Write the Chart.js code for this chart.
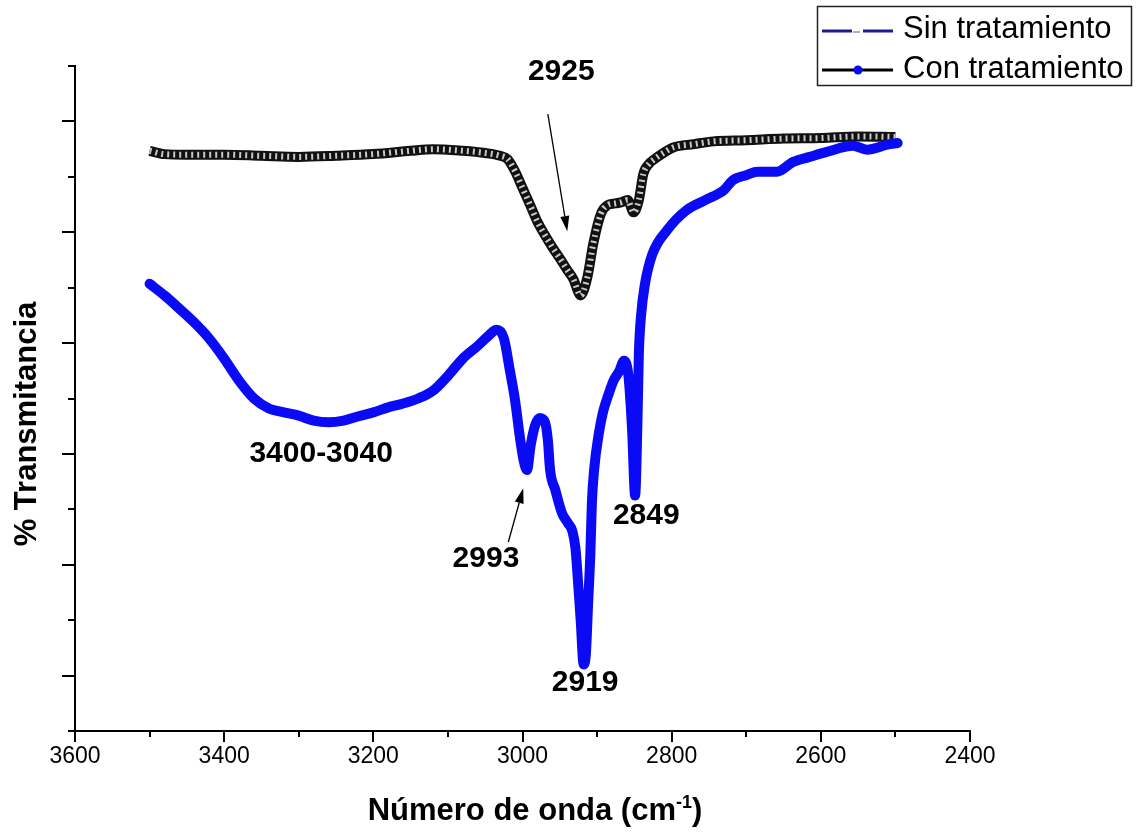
<!DOCTYPE html>
<html>
<head>
<meta charset="utf-8">
<script src="https://cdn.jsdelivr.net/npm/chart.js@4.4.1/dist/chart.umd.min.js"></script>
<style>
  html, body { margin: 0; padding: 0; background: #ffffff; }
  #wrap { width: 1138px; height: 840px; position: relative; }
</style>
</head>
<body>
<div id="wrap"><canvas id="c" width="1138" height="840"></canvas></div>
<script>
// FTIR spectra, 3500-2500 cm-1 (transmittance, arbitrary units)
const sinWavenumber = [3500, 3480, 3450, 3400, 3350, 3300, 3250, 3200, 3150, 3120, 3080, 3050,
  3030, 3020, 3010, 3000, 2990, 2980, 2970, 2960, 2950, 2940, 2932, 2922, 2913, 2905, 2895,
  2886, 2876, 2868, 2859, 2851, 2844, 2838, 2830, 2824, 2810, 2798, 2770, 2744, 2700, 2650,
  2600, 2550, 2500];
const sinTransmittance = [104.7, 104.1, 104.0, 104.0, 103.8, 103.6, 103.8, 104.1, 104.7, 105.0, 104.7, 104.3,
  103.8, 103.2, 101.0, 98.0, 95.0, 91.9, 89.5, 87.3, 85.3, 83.2, 81.6, 78.6, 81.9, 88.0, 93.3,
  94.9, 95.2, 95.4, 95.8, 93.6, 95.8, 100.5, 102.4, 103.1, 104.4, 105.3, 105.9, 106.4, 106.6, 106.9,
  107.0, 107.3, 107.2];

const conWavenumber = [3500, 3480, 3460, 3440, 3420, 3400, 3380, 3360, 3340, 3320, 3300, 3280,
  3260, 3240, 3220, 3200, 3180, 3160, 3140, 3120, 3100, 3080, 3060, 3045, 3035, 3025, 3017,
  3010, 3003, 2998, 2994, 2989, 2983, 2977, 2970, 2966, 2963, 2956, 2947, 2939, 2933, 2929,
  2926, 2922, 2918, 2915, 2912, 2909, 2907, 2904, 2898, 2892, 2885, 2878, 2870, 2864, 2858,
  2853, 2849, 2846, 2844, 2841, 2836, 2826, 2806, 2780, 2755, 2730, 2718, 2700, 2685, 2659,
  2637, 2615, 2592, 2557, 2538, 2511, 2497];
const conTransmittance = [80.7, 78.6, 76.2, 73.7, 70.8, 67.2, 63.2, 60.0, 58.2, 57.5, 56.9, 56.0,
  55.7, 56.0, 56.8, 57.5, 58.4, 59.1, 60.0, 61.4, 64.1, 67.2, 69.5, 71.4, 72.4, 70.9, 65.1,
  59.7, 52.5, 48.5, 47.1, 51.6, 55.2, 56.5, 55.8, 52.5, 47.1, 43.5, 39.3, 37.5, 36.0, 33.0,
  27.8, 20.0, 12.0, 14.0, 23.1, 32.1, 41.1, 47.1, 53.4, 57.6, 60.6, 63.2, 65.0, 66.8, 64.1,
  54.2, 42.5, 55.0, 68.0, 75.0, 80.5, 86.0, 90.4, 94.0, 95.8, 97.6, 99.4, 100.3, 100.9, 100.9,
  102.7, 103.6, 104.5, 105.6, 104.9, 105.8, 106.1];

const seriesNames = ['Sin tratamiento', 'Con tratamiento'];
const xTickLabels = [3600, 3400, 3200, 3000, 2800, 2600, 2400];

// Band assignments written on the plot (data coordinates)
const peakNotes = [
  { text: '2925', x: 2948, y: 118.9 },
  { text: '3400-3040', x: 3270, y: 50.0 },
  { text: '2993', x: 3049, y: 31.0 },
  { text: '2919', x: 2916, y: 8.7 },
  { text: '2849', x: 2834, y: 38.8 }
];
const noteArrows = [
  { from: [2966, 111.3], to: [2940, 90.2] },
  { from: [3019, 34.1], to: [2999, 43.8] }
];

const FONT = "'Liberation Sans', Arial, sans-serif";

const sinPoints = sinWavenumber.map((w, i) => ({ x: w, y: sinTransmittance[i] }));
const conPoints = conWavenumber.map((w, i) => ({ x: w, y: conTransmittance[i] }));

function arrow(ctx, x1, y1, x2, y2) {
  const ang = Math.atan2(y2 - y1, x2 - x1);
  const hl = 15, hw = 4.5;
  const bx = x2 - hl * Math.cos(ang), by = y2 - hl * Math.sin(ang);
  ctx.beginPath();
  ctx.moveTo(x1, y1);
  ctx.lineTo(bx, by);
  ctx.stroke();
  ctx.beginPath();
  ctx.moveTo(x2, y2);
  ctx.lineTo(bx + hw * Math.sin(ang), by - hw * Math.cos(ang));
  ctx.lineTo(bx - hw * Math.sin(ang), by + hw * Math.cos(ang));
  ctx.closePath();
  ctx.fill();
}

const decorations = {
  id: 'decorations',
  afterDraw(chart) {
    const { ctx } = chart;
    const xs = chart.scales.x, ys = chart.scales.y;
    const area = chart.chartArea;
    ctx.save();

    // tick marks: major / minor
    ctx.strokeStyle = '#000';
    ctx.lineWidth = 2;
    for (let v = 2400; v <= 3600; v += 100) {
      const p = Math.round(xs.getPixelForValue(v));
      const len = v % 200 === 0 ? 11 : 6;
      ctx.beginPath();
      ctx.moveTo(p, area.bottom);
      ctx.lineTo(p, area.bottom + len);
      ctx.stroke();
    }
    for (let v = 0; v <= 120; v += 10) {
      const p = Math.round(ys.getPixelForValue(v));
      const len = v % 20 === 10 ? 13 : 7;
      ctx.beginPath();
      ctx.moveTo(area.left - len, p);
      ctx.lineTo(area.left, p);
      ctx.stroke();
    }

    // axis titles
    ctx.fillStyle = '#000';
    ctx.textBaseline = 'alphabetic';
    const mainFont = 'bold 31px ' + FONT;
    const supFont = 'bold 18px ' + FONT;
    const part1 = 'Número de onda (cm', sup = '-1', part2 = ')';
    ctx.font = mainFont;
    const w1 = ctx.measureText(part1).width, w3 = ctx.measureText(part2).width;
    ctx.font = supFont;
    const w2 = ctx.measureText(sup).width;
    let tx = 535 - (w1 + w2 + w3) / 2;
    const ty = 820;
    ctx.font = mainFont; ctx.textAlign = 'left';
    ctx.fillText(part1, tx, ty); tx += w1;
    ctx.font = supFont;
    ctx.fillText(sup, tx, ty - 12); tx += w2;
    ctx.font = mainFont;
    ctx.fillText(part2, tx, ty);

    ctx.save();
    ctx.translate(36, 424);
    ctx.rotate(-Math.PI / 2);
    ctx.textAlign = 'center';
    ctx.font = mainFont;
    ctx.fillText('% Transmitancia', 0, 0);
    ctx.restore();

    // band labels and arrows
    ctx.font = 'bold 30px ' + FONT;
    ctx.textAlign = 'center';
    ctx.textBaseline = 'middle';
    peakNotes.forEach(n => {
      ctx.fillText(n.text, xs.getPixelForValue(n.x), ys.getPixelForValue(n.y));
    });
    ctx.lineWidth = 1.3;
    ctx.strokeStyle = '#000';
    noteArrows.forEach(a => {
      arrow(ctx, xs.getPixelForValue(a.from[0]), ys.getPixelForValue(a.from[1]),
        xs.getPixelForValue(a.to[0]), ys.getPixelForValue(a.to[1]));
    });

    // legend
    ctx.lineWidth = 1.5;
    ctx.strokeStyle = '#222';
    ctx.strokeRect(817.5, 6.5, 314, 79);
    ctx.lineCap = 'butt';
    ctx.lineWidth = 3;
    ctx.strokeStyle = '#1c1c8c';
    ctx.beginPath(); ctx.moveTo(822, 31); ctx.lineTo(852, 31); ctx.stroke();
    ctx.beginPath(); ctx.moveTo(863, 31); ctx.lineTo(893, 31); ctx.stroke();
    ctx.strokeStyle = '#b0b0b0'; ctx.lineWidth = 2;
    ctx.beginPath(); ctx.moveTo(853, 32); ctx.lineTo(860, 32); ctx.stroke();
    ctx.strokeStyle = '#000'; ctx.lineWidth = 3;
    ctx.beginPath(); ctx.moveTo(822, 70); ctx.lineTo(893, 70); ctx.stroke();
    ctx.fillStyle = '#0a0af5';
    ctx.beginPath(); ctx.arc(858, 70, 4.5, 0, Math.PI * 2); ctx.fill();
    ctx.fillStyle = '#000';
    ctx.font = '31px ' + FONT;
    ctx.textAlign = 'left';
    ctx.textBaseline = 'middle';
    ctx.fillText(seriesNames[0], 903, 29);
    ctx.fillText(seriesNames[1], 903, 69);

    ctx.restore();
  }
};

new Chart(document.getElementById('c'), {
  type: 'line',
  data: {
    datasets: [
      {
        label: seriesNames[1],
        data: conPoints,
        borderColor: '#0a0af5',
        borderWidth: 10,
        pointRadius: 0,
        borderJoinStyle: 'round',
        borderCapStyle: 'round',
        cubicInterpolationMode: 'monotone',
        order: 0
      },
      {
        label: seriesNames[0] + ' (marcas)',
        data: sinPoints,
        borderColor: '#c8c8c8',
        borderWidth: 6,
        borderDash: [2, 4],
        pointRadius: 0,
        cubicInterpolationMode: 'monotone',
        order: 1
      },
      {
        label: seriesNames[0],
        data: sinPoints,
        borderColor: '#111111',
        borderWidth: 10,
        pointRadius: 0,
        borderJoinStyle: 'round',
        cubicInterpolationMode: 'monotone',
        order: 2
      }
    ]
  },
  options: {
    responsive: false,
    animation: false,
    events: [],
    layout: { padding: { top: 66, right: 168, bottom: 0, left: 0 } },
    plugins: {
      legend: { display: false },
      tooltip: { enabled: false },
      title: { display: false }
    },
    scales: {
      x: {
        type: 'linear',
        reverse: true,
        min: 2400,
        max: 3600,
        grid: { display: false, drawTicks: false },
        border: { display: true, color: '#000', width: 2 },
        ticks: {
          stepSize: 100,
          autoSkip: false,
          maxRotation: 0,
          padding: 12,
          color: '#000',
          font: { family: FONT, size: 23 },
          callback: v => (xTickLabels.includes(v) ? String(v) : '')
        },
        afterFit: s => { s.height = 109; }
      },
      y: {
        type: 'linear',
        min: 0,
        max: 120,
        grid: { display: false, drawTicks: false },
        border: { display: true, color: '#000', width: 2 },
        ticks: { display: false, stepSize: 10 },
        afterFit: s => { s.width = 75; }
      }
    }
  },
  plugins: [decorations]
});
</script>
</body>
</html>
